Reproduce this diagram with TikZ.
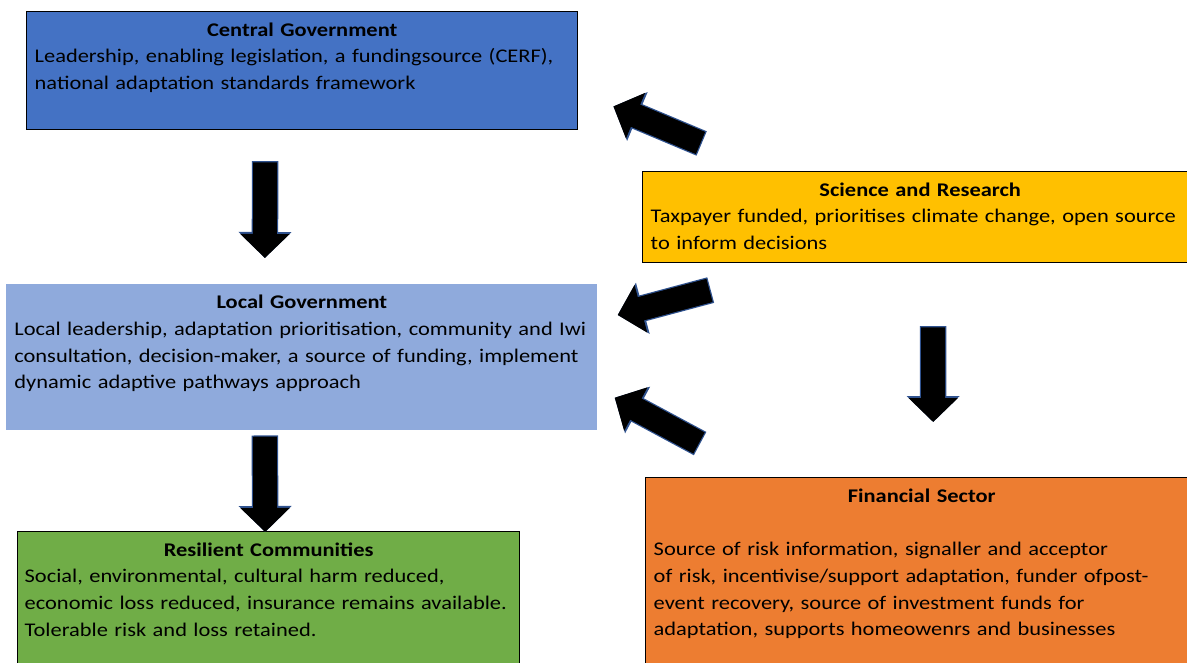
\documentclass[tikz,border=0pt]{standalone}
\usepackage{fontspec}
\setmainfont{Carlito}[FakeStretch=1.16]
\usetikzlibrary{arrows.meta}
\hyphenpenalty=10000

\definecolor{cgblue}{HTML}{4472C4}
\definecolor{lgblue}{HTML}{8FAADC}
\definecolor{sryellow}{HTML}{FFC000}
\definecolor{rcgreen}{HTML}{70AD47}
\definecolor{fsorange}{HTML}{ED7D31}
\definecolor{arrowedge}{HTML}{2F528F}

\begin{document}
\begin{tikzpicture}[font=\fontsize{11pt}{15.2pt}\selectfont,
  bx/.style={anchor=north west,align=left,inner xsep=0.16cm,inner ysep=0.16cm,text height=0.33cm},
  lined/.style={bx,draw=black,line width=0.8pt},
  blk/.style={line width=0.48cm,-{Triangle[width=0.96cm,length=0.48cm]},
    preaction={draw=arrowedge,line width=0.53cm,shorten <=-0.025cm,-{Triangle[width=1.03cm,length=0.52cm]}}}]
  \path[use as bounding box,clip] (0,0) rectangle (23.74,13.24);
  \node[lined,fill=cgblue,text width=10.70cm,text depth=1.71cm] (cg) at (0.52,13.02)
    {\hspace*{\fill}\textbf{Central Government}\hspace*{\fill}\null\\
     Leadership, enabling legislation, a fundingsource (CERF),\\
     national adaptation standards framework};
  \node[lined,fill=sryellow,text width=10.78cm,text depth=1.17cm] (sr) at (12.84,9.82)
    {\hspace*{\fill}\textbf{Science and Research}\hspace*{\fill}\null\\
     Taxpayer funded, prioritises climate change, open source\\
     to inform decisions};
  \node[bx,fill=lgblue,text width=11.50cm,text depth=2.27cm] (lg) at (0.12,7.56)
    {\hspace*{\fill}\textbf{Local Government}\hspace*{\fill}\null\\
     Local leadership, adaptation prioritisation, community and Iwi\\
     consultation, decision-maker, a source of funding, implement\\
     dynamic adaptive pathways approach};
  \node[lined,fill=rcgreen,inner xsep=0.14cm,text width=9.76cm,text depth=2.17cm] (rc) at (0.34,2.62)
    {\hspace*{\fill}\textbf{Resilient Communities}\hspace*{\fill}\null\\
     Social, environmental, cultural harm reduced,\\
     economic loss reduced, insurance remains available.\\
     Tolerable risk and loss retained.};
  \node[lined,fill=fsorange,text width=10.72cm,text depth=3.25cm] (fs) at (12.90,3.70)
    {\hspace*{\fill}\textbf{Financial Sector}\hspace*{\fill}\null\\
     \mbox{}\\
     Source of risk information, signaller and acceptor\\
     of risk, incentivise/support adaptation, funder ofpost-\\
     event recovery, source of investment funds for\\
     adaptation, supports homeowenrs and businesses};
  % block arrows between the boxes
  \draw[blk] ([shift={(-0.74,-0.64)}]cg.south) -- ([shift={(-0.74,0.52)}]lg.north);
  \draw[blk] ([shift={(-0.74,-0.12)}]lg.south) -- ([shift={(-0.07,-0.02)}]rc.north);
  \draw[blk] ([shift={(1.17,0.56)}]sr.north west) -- ([shift={(0.70,0.48)}]cg.south east);
  \draw[blk] ([shift={(1.35,-0.54)}]sr.south west) -- ([shift={(0.40,-0.62)}]lg.north east);
  \draw[blk] ([shift={(1.08,0.68)}]fs.north west) -- ([shift={(0.34,0.66)}]lg.south east);
  \draw[blk] ([shift={(0.26,-1.28)}]sr.south) -- ([shift={(0.23,1.10)}]fs.north);
\end{tikzpicture}
\end{document}
